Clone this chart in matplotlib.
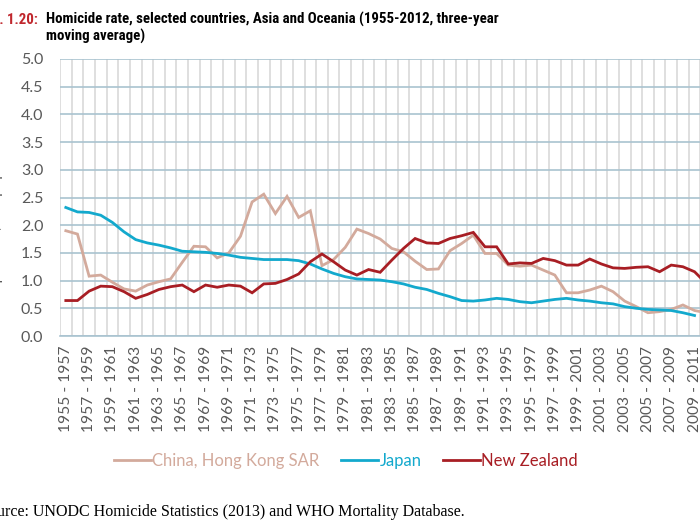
import numpy as np
import matplotlib
matplotlib.use("Agg")
import matplotlib.pyplot as plt
from matplotlib import font_manager

# three-year periods, one category per starting year
start_years = list(range(1955, 2011))
periods = [f"{y} - {y + 2}" for y in start_years]

hong_kong = [1.90, 1.84, 1.08, 1.10, 0.97, 0.85, 0.81, 0.92, 0.98, 1.03,
             1.33, 1.62, 1.61, 1.41, 1.50, 1.80, 2.42, 2.56, 2.21, 2.52,
             2.14, 2.26, 1.27, 1.38, 1.60, 1.93, 1.85, 1.75, 1.58, 1.52,
             1.35, 1.20, 1.21, 1.54, 1.67, 1.82, 1.49, 1.49, 1.28, 1.26,
             1.28, 1.19, 1.10, 0.78, 0.78, 0.83, 0.90, 0.80, 0.63, 0.53,
             0.42, 0.44, 0.48, 0.56, 0.46, 0.42]

japan = [2.32, 2.24, 2.23, 2.18, 2.05, 1.88, 1.74, 1.68, 1.64, 1.59,
         1.53, 1.52, 1.51, 1.49, 1.46, 1.42, 1.40, 1.38, 1.38, 1.38,
         1.36, 1.30, 1.21, 1.13, 1.07, 1.03, 1.02, 1.01, 0.98, 0.94,
         0.88, 0.84, 0.77, 0.71, 0.64, 0.63, 0.65, 0.68, 0.66, 0.62,
         0.60, 0.63, 0.66, 0.68, 0.65, 0.63, 0.60, 0.58, 0.53, 0.50,
         0.48, 0.47, 0.46, 0.42, 0.37, np.nan]

new_zealand = [0.64, 0.64, 0.81, 0.90, 0.89, 0.80, 0.68, 0.75, 0.84, 0.89,
               0.92, 0.80, 0.92, 0.88, 0.92, 0.90, 0.78, 0.94, 0.95, 1.02,
               1.12, 1.34, 1.48, 1.34, 1.19, 1.10, 1.20, 1.15, 1.37, 1.58,
               1.76, 1.68, 1.67, 1.76, 1.81, 1.87, 1.61, 1.61, 1.30, 1.32,
               1.31, 1.40, 1.36, 1.28, 1.28, 1.39, 1.30, 1.23, 1.22, 1.24,
               1.25, 1.16, 1.28, 1.25, 1.16, 0.95]

series_names = ["China, Hong Kong SAR", "Japan", "New Zealand"]
colors = ["#D3AA9C", "#13A9CD", "#A81E24"]


def pick_condensed():
    """Find a narrow sans face for the title, if one is installed."""
    entries = font_manager.fontManager.ttflist
    names = {f.name for f in entries}
    for n in ["Liberation Sans Narrow", "Roboto Condensed", "Noto Sans Condensed",
              "DejaVu Sans Condensed", "Open Sans Condensed"]:
        if n in names:
            return n, "normal"
    for f in entries:
        if f.name in ("Noto Sans", "DejaVu Sans", "Open Sans", "Roboto") and \
                f.stretch in ("condensed", 300):
            return f.name, "condensed"
    return None, "normal"


title_font, title_stretch = pick_condensed()
condensed = title_font is not None
if not condensed:
    title_font = "Liberation Sans"

label_font = "Lato"
gray = "#595959"

W, H = 700, 525
fig = plt.figure(figsize=(7, 5.25), dpi=100)


def fx(px):
    return px / W


def fy(py):
    return 1 - py / H


ax = fig.add_axes([fx(60), fy(336), fx(652), 277 / H])
x = np.arange(len(periods))
for vals, name, c in zip([hong_kong, japan, new_zealand], series_names, colors):
    ax.plot(x, vals, color=c, lw=2.0, label=name, solid_joinstyle="miter", zorder=3)

ax.set_xlim(-0.5, len(periods) - 0.5)
ax.set_ylim(0, 5)
ax.set_yticks(np.arange(0, 5.01, 0.5))
ax.set_yticklabels([f"{v:.1f}" for v in np.arange(0, 5.01, 0.5)])
ax.set_xticks(x[::2])
ax.set_xticklabels(periods[::2], rotation=90)
ax.set_xticks(np.arange(-0.5, len(periods)), minor=True)

ax.xaxis.grid(True, which="minor", color="#D9D9D9", lw=1.2, zorder=1)
ax.xaxis.grid(False, which="major")
ax.yaxis.grid(True, color="#A9C3D0", lw=1.2, zorder=2)
ax.set_axisbelow(True)
for s in ["left", "right", "top"]:
    ax.spines[s].set_visible(False)
ax.spines["bottom"].set_color("#A9C3D0")
ax.spines["bottom"].set_linewidth(1.2)

ax.tick_params(axis="y", length=0, pad=12, labelsize=11.5, labelcolor=gray)
ax.tick_params(axis="x", which="both", length=0, pad=7, labelsize=11.2, labelcolor=gray)
for lab in ax.get_xticklabels() + ax.get_yticklabels():
    lab.set_family(label_font)

# y-axis title, mostly outside the left edge as in the source image
fig.text(fx(3), fy(241), "Homicides per 100,000 population", rotation=90,
         ha="right", va="center", family=label_font, fontsize=11, color=gray)

# title
kw = dict(va="baseline", family=title_font, fontweight="bold", fontsize=12,
          fontstretch=title_stretch)
fig.text(fx(38), fy(24), "Fig. 1.20:", ha="right", color="#C0272D", **kw)
t1 = fig.text(fx(46), fy(24),
              "Homicide rate, selected countries, Asia and Oceania (1955-2012, three-year",
              ha="left", color="black", **kw)
fig.text(fx(46), fy(41), "moving average)", ha="left", color="black", **kw)

renderer = fig.canvas.get_renderer()
w = t1.get_window_extent(renderer).width
size = 12 * 456 / w
if not condensed:
    size = min(size * 1.12, 11)
for t in fig.texts[-3:]:
    t.set_fontsize(size)

fig.legend(loc="center", bbox_to_anchor=(fx(346), fy(461)), ncol=3, frameon=False,
           handlelength=2.2, handletextpad=0.1, columnspacing=1.3,
           prop={"family": label_font, "size": 12}, labelcolor="linecolor")

fig.text(fx(465), fy(512),
         "Source: UNODC Homicide Statistics (2013) and WHO Mortality Database.",
         ha="right", va="center", family="Liberation Serif", fontsize=11.5,
         color="black")

fig.savefig("out.png", dpi=100)
